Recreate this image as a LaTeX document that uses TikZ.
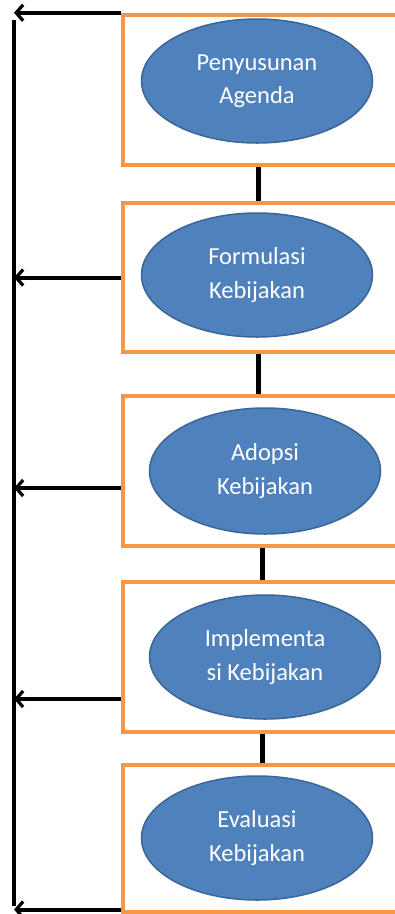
\documentclass[tikz,border=0pt]{standalone}
\usepackage{fontspec}
\setmainfont{Carlito}
\usetikzlibrary{shapes.geometric,arrows.meta}
\definecolor{boxorange}{HTML}{F79646}
\definecolor{ellfill}{HTML}{4F81BD}
\definecolor{elldraw}{HTML}{3B6596}
\begin{document}
\begin{tikzpicture}[x=1pt,y=-1pt,
  stagebox/.style={draw=boxorange,line width=4.5pt,fill=white,minimum width=277pt,inner sep=0pt,anchor=center},
  stageell/.style={ellipse,draw=elldraw,line width=1.5pt,fill=ellfill,minimum width=231pt,minimum height=124pt,inner sep=0pt,
    text=white,align=center,font=\fontsize{24.5}{33.5}\selectfont},
  link/.style={black,line width=5pt},
  back/.style={black,line width=4pt,-{Straight Barb[length=7pt,width=16pt,line width=3.2pt]}}]
\useasboundingbox (0,0) rectangle (395,914);
\clip (0,0) rectangle (395,914);
\node[stagebox,minimum height=150pt] (b1) at (261.5,90) {};
\node[stagebox,minimum height=149pt] (b2) at (261.5,277.5) {};
\node[stagebox,minimum height=150pt] (b3) at (261.5,471) {};
\node[stagebox,minimum height=150pt] (b4) at (261.5,657) {};
\node[stagebox,minimum height=147pt] (b5) at (261.5,838.5) {};
\node[stageell] (e1) at (257,81) {Penyusunan\\Agenda};
\node[stageell] (e2) at (257,275) {Formulasi\\Kebijakan};
\node[stageell,minimum height=126pt] (e3) at (265,471) {Adopsi\\Kebijakan};
\node[stageell] (e4) at (265,657) {Implementa\\si Kebijakan};
\node[stageell] (e5) at (257,838) {Evaluasi\\Kebijakan};
% connectors between stages
\draw[link] ([xshift=-3.5pt]b1.south) -- ([xshift=-3.5pt]b1.south |- b2.north);
\draw[link] ([xshift=-3.5pt]b2.south) -- ([xshift=-3.5pt]b2.south |- b3.north);
\draw[link] ([xshift=0.5pt]b3.south) -- ([xshift=0.5pt]b3.south |- b4.north);
\draw[link] ([xshift=0.5pt]b4.south) -- ([xshift=0.5pt]b4.south |- b5.north);
% feedback line
\coordinate (top) at (14,20);
\coordinate (bot) at (14,906);
\draw[link,line width=4pt] (top) -- (bot);
\draw[back] (b1.north west) -- (b1.north west -| 14,0);
\draw[back] (b2.west) -- (b2.west -| 14,0);
\draw[back] ([yshift=-17pt]b3.west) -- ([yshift=-17pt]b3.west -| 14,0);
\draw[back] ([yshift=-42pt]b4.west) -- ([yshift=-42pt]b4.west -| 14,0);
\draw[back] ([yshift=-71pt]b5.west) -- ([yshift=-71pt]b5.west -| 14,0);
\end{tikzpicture}
\end{document}
